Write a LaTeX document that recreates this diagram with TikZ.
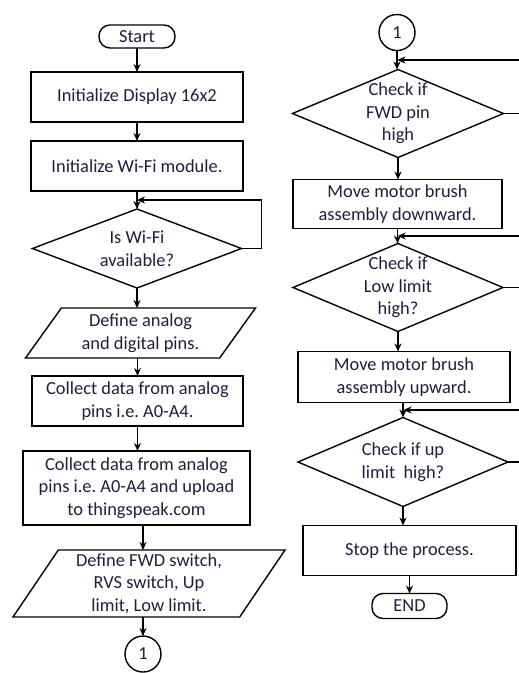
\documentclass[tikz,border=0pt]{standalone}
\usepackage{fontspec}
\setmainfont{Carlito}
\usepackage{tikz}
\usetikzlibrary{shapes.geometric,arrows.meta,positioning,calc}
\frenchspacing
\definecolor{inktext}{RGB}{30,30,62}
\tikzstyle{fbase}  = [draw, line width=1.4pt, inner sep=0pt, outer sep=0pt,
                      align=center, text=inktext,
                      font=\fontsize{18.4}{22.5}\selectfont]
\tikzstyle{fterm}  = [fbase, rectangle, rounded corners=11pt,
                      minimum width=76pt, minimum height=23pt]
\tikzstyle{fbox}   = [fbase, rectangle, minimum width=212pt, minimum height=50pt]
\tikzstyle{fdec}   = [fbase, diamond, aspect=2.4, inner xsep=0pt, inner ysep=-10pt,
                      minimum width=210pt, minimum height=88pt]
\tikzstyle{fio}    = [fbase, trapezium, trapezium left angle=47,
                      trapezium right angle=133, trapezium stretches body,
                      minimum height=50pt, minimum width=230pt]
\tikzstyle{fcon}   = [fbase, circle, minimum size=36pt]
\tikzstyle{farrow} = [-{Stealth[length=8pt,width=7pt]}, line width=1.4pt]
\begin{document}
\begin{tikzpicture}[x=1pt, y=1pt]
\useasboundingbox (0,0) rectangle (519,-673);
% Left column
\node[fterm] (start) at (137,-36.5) {Start};
\node[fbox, below=24pt of start] (disp) {Initialize Display 16x2};
\node[fbox, below=19pt of disp] (wifi) {Initialize Wi-Fi module.};
\node[fdec, minimum width=209pt, minimum height=79pt, below=18pt of wifi] (avail)
  {Is Wi-Fi\\available?};
\node[fio, below=20pt of avail, xshift=3.5pt] (pins) {Define analog\\and digital pins.};
\node[fbox, minimum width=211pt, below=18pt of pins, xshift=-3pt] (coll1)
  {Collect data from analog\\pins i.e. A0-A4.};
\node[fbox, minimum width=227pt, minimum height=74pt, below=25pt of coll1,
  xshift=-1pt] (coll2)
  {Collect data from analog\\pins i.e. A0-A4 and upload\\to thingspeak.com};
\node[fio, trapezium left angle=53, trapezium right angle=127, minimum width=272pt,
  minimum height=67pt, below=25pt of coll2, xshift=12.5pt] (sw)
  {Define FWD switch,\\RVS switch, Up\\limit, Low limit.};
\node[fcon, below=19pt of sw, xshift=-6pt] (conA) {1};
% Right column
\node[fcon] (conB) at (397,-32.5) {1};
\node[fdec, minimum width=211pt, below=19pt of conB, xshift=1pt] (fwd)
  {Check if\\FWD pin\\high};
\node[fbox, minimum width=209pt, minimum height=49pt, below=22pt of fwd,
  xshift=-0.5pt] (down) {Move motor brush\\assembly downward.};
\node[fdec, below=15pt of down, xshift=0.5pt] (low) {Check if\\Low limit\\high?};
\node[fbox, minimum height=51pt, below=20pt of low, xshift=6pt] (up)
  {Move motor brush\\assembly upward.};
\node[fdec, minimum height=89pt, below=15pt of up, xshift=-1pt] (uplim)
  {Check if up\\limit~ high?};
\node[fbox, minimum width=213pt, below=19pt of uplim, xshift=6.5pt] (stop)
  {Stop the process.};
\node[fterm, minimum width=75pt, minimum height=25pt, below=18pt of stop] (end) {END};
% Junctions of the loops
\coordinate (j1) at ($(wifi.south)!0.5!(avail.north)$);
\coordinate (j2) at ($(conB.south)!0.5!(fwd.north)$);
\coordinate (j3) at ($(down.south)!0.5!(low.north)$);
\coordinate (j4) at ($(up.south)!0.5!(uplim.north)$);
\coordinate (rim) at (525,0);
% Arrows
\draw[farrow] (start) -- (disp);
\draw[farrow] (disp) -- (wifi);
\draw[farrow] (wifi) -- (avail);
\draw[farrow] (avail.east) -- ++(20pt,0) |- (j1);
\draw[farrow] (avail.south) -- (avail.south |- pins.north);
\draw[farrow] (coll1.north |- pins.south) -- (coll1.north);
\draw[farrow] (coll1.south) -- (coll1.south |- coll2.north);
\draw[farrow] (conA.north |- coll2.south) -- (conA.north |- sw.north);
\draw[farrow] (conA.north |- sw.south) -- (conA);
\draw[farrow] (conB.south) -- (conB.south |- fwd.north);
\draw[farrow] (fwd.east) -- (fwd.east -| rim) |- (j2);
\draw[farrow] (fwd.south) -- (fwd.south |- down.north);
\draw[farrow] (down.south) -- (down.south |- low.north);
\draw[farrow] (low.east) -- (low.east -| rim) |- (j3);
\draw[farrow] (low.south) -- (low.south |- up.north);
\draw[farrow] (uplim.north |- up.south) -- (uplim.north);
\draw[farrow] (uplim.east) -- (uplim.east -| rim) |- (j4);
\draw[farrow] (uplim.south) -- (uplim.south |- stop.north);
\draw[farrow] (end.north |- stop.south) -- (end);
\end{tikzpicture}
\end{document}
